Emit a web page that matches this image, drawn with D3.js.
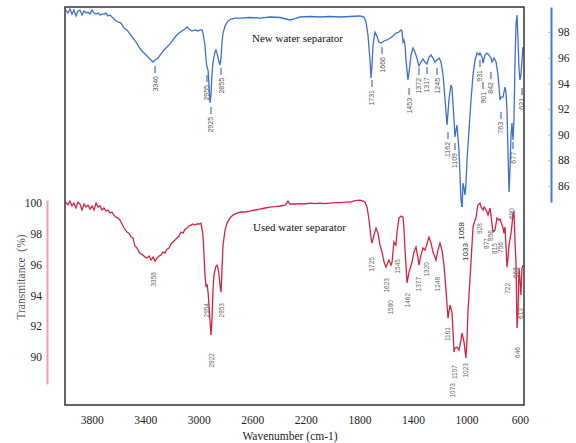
<!DOCTYPE html>
<html>
<head>
<meta charset="utf-8">
<script src="https://cdn.jsdelivr.net/npm/d3@7"></script>
<style>
  body { margin: 0; background: #fff; }
  svg { display: block; }
</style>
</head>
<body>
<svg id="chart" width="576" height="443"></svg>
<script>
// spectra: wavenumber (cm-1) and transmittance (%)
const newWave = [3993,3978,3963,3948,3933,3918,3903,3888,3873,3858,3843,3828,3813,3798,3783,3768,3753,3738,3724,3709,3694,3679,3664,3649,3626,3604,3582,3559,3537,3514,3492,3469,3447,3425,3402,3380,3357,3342,3327,3305,3283,3260,3238,3215,3193,3171,3148,3126,3103,3088,3073,3051,3029,3006,2991,2976,2969,2954,2946,2939,2931,2924,2916,2909,2902,2894,2879,2872,2864,2849,2842,2834,2827,2819,2804,2782,2760,2730,2692,2618,2543,2468,2393,2319,2281,2244,2169,2095,2020,1945,1870,1796,1766,1751,1736,1721,1713,1706,1698,1684,1669,1654,1639,1616,1594,1571,1549,1527,1504,1489,1482,1474,1467,1459,1452,1437,1429,1414,1400,1385,1370,1355,1340,1325,1310,1295,1280,1265,1250,1235,1220,1205,1190,1175,1160,1145,1131,1116,1108,1093,1086,1078,1071,1056,1041,1033,1026,1018,1011,1004,996,981,966,951,936,921,906,899,884,876,862,847,832,817,809,794,779,764,749,742,727,712,705,697,690,682,675,667,660,652,645,637,630,622,615,607,600,593,585,578];
const newT = [99.71,99.48,99.79,99.40,99.71,99.25,99.64,99.71,99.33,99.64,99.48,99.56,99.40,99.71,99.48,99.40,99.48,99.33,99.40,99.40,99.48,99.25,99.33,99.17,98.94,98.78,98.70,98.31,98.16,97.84,97.53,97.22,96.83,96.52,96.29,96.05,95.82,95.66,95.82,95.97,96.29,96.60,96.83,97.07,97.38,97.69,97.92,98.08,98.23,98.39,98.23,98.08,98.16,98.08,98.16,98.16,97.92,96.99,95.82,95.27,95.04,93.87,92.47,93.09,94.65,95.66,96.44,96.60,96.36,95.66,95.43,95.97,97.22,97.92,98.47,98.86,99.01,99.09,99.09,99.13,99.09,99.17,99.13,98.94,99.05,99.17,99.21,99.17,99.21,99.17,99.21,99.25,99.17,98.78,97.77,95.82,94.42,95.43,96.99,98.00,97.69,97.22,97.14,97.30,97.38,97.53,97.69,97.92,98.00,98.16,98.08,97.22,97.38,96.99,95.82,94.26,94.88,96.21,96.75,96.44,95.97,95.35,95.66,95.90,95.66,95.51,96.05,96.21,95.97,95.66,95.82,95.97,95.66,94.65,92.70,90.75,92.70,93.87,93.64,91.14,89.82,90.36,90.75,88.81,84.91,84.36,86.23,85.84,85.30,86.08,88.03,90.36,92.70,94.65,95.82,96.36,96.21,96.36,96.05,95.58,96.21,96.36,96.21,95.97,95.66,95.97,95.66,94.65,92.70,92.93,92.93,93.71,93.33,91.92,88.81,85.54,87.25,89.97,90.91,89.58,91.14,95.82,98.55,99.33,97.38,95.04,94.26,94.65,95.82,96.83];

const usedWave = [3993,3978,3963,3948,3933,3918,3903,3888,3873,3858,3843,3828,3813,3798,3783,3768,3753,3738,3724,3709,3694,3679,3664,3649,3634,3619,3604,3589,3574,3559,3537,3522,3507,3492,3477,3462,3447,3432,3417,3402,3387,3372,3357,3342,3327,3313,3298,3283,3268,3253,3238,3223,3208,3193,3178,3163,3148,3133,3118,3103,3088,3073,3058,3044,3029,3014,2999,2984,2969,2961,2954,2946,2939,2931,2924,2916,2909,2902,2894,2887,2872,2864,2857,2849,2842,2834,2827,2819,2804,2789,2767,2745,2715,2685,2655,2618,2580,2543,2505,2468,2431,2393,2356,2334,2319,2281,2244,2207,2169,2132,2095,2057,2020,1982,1945,1908,1870,1833,1796,1773,1758,1743,1728,1713,1706,1691,1676,1661,1646,1631,1616,1601,1586,1579,1564,1556,1549,1542,1534,1527,1519,1504,1489,1474,1467,1459,1444,1429,1407,1392,1377,1362,1355,1340,1325,1310,1302,1287,1280,1265,1250,1235,1228,1213,1198,1183,1168,1153,1145,1138,1123,1108,1101,1093,1086,1071,1056,1041,1033,1018,1004,996,989,974,966,951,936,929,921,914,899,891,876,869,862,847,839,824,817,802,787,772,757,749,734,727,720,712,705,697,690,682,667,660,652,645,637,630,622,615,607,600,593,585,578];
const usedT = [100.06,99.87,100.13,99.81,100.00,99.68,100.06,99.94,99.55,99.94,99.74,99.87,99.61,99.81,99.55,100.00,99.74,99.81,99.55,99.68,99.48,99.55,99.35,99.42,99.22,99.09,99.03,98.90,98.64,98.38,98.12,98.05,97.79,97.73,97.21,97.08,96.82,96.69,96.62,96.49,96.43,96.56,96.30,96.49,96.23,96.43,96.56,96.62,96.82,96.75,97.01,97.08,97.34,97.47,97.60,97.73,97.86,98.12,98.05,98.31,98.38,98.51,98.57,98.64,98.57,98.64,98.64,98.70,97.92,96.62,95.33,94.54,94.74,94.22,93.38,92.27,91.43,92.40,94.35,95.33,95.91,95.97,95.78,95.33,94.67,94.22,95.65,97.27,98.25,98.70,99.03,99.22,99.35,99.42,99.42,99.48,99.55,99.61,99.68,99.74,99.77,99.81,99.87,100.13,99.94,99.94,99.97,99.94,100.00,99.97,100.00,99.97,100.00,100.03,100.03,100.06,100.06,100.16,100.19,100.13,100.06,99.74,98.90,97.73,97.40,97.92,98.38,98.05,97.27,96.82,96.17,95.84,96.17,96.30,95.97,96.17,96.82,97.47,97.34,97.27,98.12,99.03,99.16,99.09,98.38,96.95,94.81,95.52,96.17,96.82,97.14,96.43,95.97,96.62,97.08,96.95,97.14,97.60,97.79,97.40,96.82,96.49,96.30,96.95,97.40,96.95,95.97,94.35,93.38,92.53,93.38,92.92,91.75,90.33,90.58,90.65,90.45,91.10,91.56,90.97,89.94,91.10,92.92,95.00,96.17,98.44,98.90,99.03,99.55,99.87,100.00,99.74,99.55,99.74,99.68,99.42,99.22,99.68,99.22,98.12,98.25,99.03,98.90,98.96,98.57,98.38,98.05,98.44,97.27,95.84,96.43,97.27,98.05,98.57,99.35,99.42,97.47,96.17,91.88,92.92,95.78,95.00,94.03,95.78,95.97];

// peak labels: text, wavenumber where placed, transmittance at the top of the text
const newPeakText = ["3346","2955","2925","2855","1731","1666","1453","1372","1317","1245","1162","1109","931","901","842","763","677","621"];
const newPeakWave = [3327,2939,2909,2834,1706,1631,1429,1355,1295,1220,1138,1086,899,876,817,742,652,585];
const newPeakTop  = [94.57,93.87,91.38,94.42,93.48,96.05,92.86,94.42,94.49,94.42,89.43,88.57,95.04,93.33,94.10,90.99,88.65,92.86];

const usedPeakText = ["3358","2954","2922","2853","1725","1623","1580","1545","1462","1377","1320","1248","1161","1107","1073","1023","928","877","856","815","756","722","690","668","646","613"];
const usedPeakWave = [3335,2939,2902,2827,1706,1594,1564,1512,1437,1362,1295,1220,1145,1086,1108,1004,899,847,824,794,742,690,660,637,615,593];
const usedPeakTop  = [95.52,93.51,90.26,93.51,96.49,95.13,93.70,96.36,94.16,95.20,96.17,95.20,91.95,89.48,88.31,89.61,98.70,97.73,98.25,97.40,97.47,94.81,99.67,95.84,90.65,93.18];

// the two bigger dark labels in the lower panel (top of text in used-axis units)
const bigText = ["1058","1033"];
const bigWave = [1036,1008];
const bigTop  = [98.77,97.40];

const xTicks = [3800,3400,3000,2600,2200,1800,1400,1000,600];
const newTicks = [86,88,90,92,94,96,98];
const usedTicks = [90,92,94,96,98,100];

const blue = "#3d6fd0";
const red = "#d3243f";
const serif = "'Liberation Serif','Times New Roman',serif";
const sans = "'Liberation Sans',Arial,sans-serif";

const svg = d3.select("#chart");

const x = d3.scaleLinear().domain([4000, 570]).range([65, 524]);
const yNew = d3.scaleLinear().domain([84.75, 99.95]).range([202, 7]);
const yUsed = d3.scaleLinear().domain([88.25, 100.2]).range([384, 200]);

svg.append("defs").append("clipPath").attr("id", "plot")
  .append("rect").attr("x", 65).attr("y", 7).attr("width", 459).attr("height", 398);

const lineNew = d3.line().x((d, i) => x(newWave[i])).y(d => yNew(d));
const lineUsed = d3.line().x((d, i) => x(usedWave[i])).y(d => yUsed(d));

const g = svg.append("g").attr("clip-path", "url(#plot)");
g.append("path").datum(newT).attr("d", lineNew)
  .attr("fill", "none").attr("stroke", blue).attr("stroke-width", 1.3);
g.append("path").datum(usedT).attr("d", lineUsed)
  .attr("fill", "none").attr("stroke", red).attr("stroke-width", 1.3);

// peak labels
function peakLabels(texts, waves, tops, yScale, size, color, dashColor, dashGap) {
  texts.forEach((t, i) => {
    const px = x(waves[i]);
    const py = yScale(tops[i]);
    if (dashColor) {
      svg.append("line")
        .attr("x1", px).attr("x2", px)
        .attr("y1", py - dashGap - 7).attr("y2", py - dashGap)
        .attr("stroke", dashColor).attr("stroke-width", 1.2);
    }
    svg.append("text")
      .attr("transform", `translate(${px},${py}) rotate(-90)`)
      .attr("text-anchor", "end")
      .attr("dominant-baseline", "central")
      .style("font-family", sans)
      .style("font-size", size + "px")
      .style("fill", color)
      .text(t);
  });
}
peakLabels(newPeakText, newPeakWave, newPeakTop, yNew, 7, "#555", blue, 3);
peakLabels(usedPeakText, usedPeakWave, usedPeakTop, yUsed, 6.5, "#666", null, 0);
peakLabels(bigText.slice(0, 1), bigWave.slice(0, 1), bigTop.slice(0, 1), yUsed, 8, "#333", blue, 15);
peakLabels(bigText.slice(1), bigWave.slice(1), bigTop.slice(1), yUsed, 8, "#333", null, 0);

// frame
svg.append("rect")
  .attr("x", 65).attr("y", 7).attr("width", 459).attr("height", 398)
  .attr("fill", "none").attr("stroke", "#333").attr("stroke-width", 1.5);

// x axis
const xAxis = svg.append("g").attr("transform", "translate(0,405)")
  .call(d3.axisBottom(x).tickValues(xTicks).tickFormat(d3.format("d")).tickSize(0).tickPadding(11));
xAxis.select(".domain").remove();
xAxis.selectAll("text").style("font-family", serif).style("font-size", "11.5px").style("fill", "#222");

svg.append("text")
  .attr("x", 290).attr("y", 440)
  .attr("text-anchor", "middle")
  .style("font-family", serif).style("font-size", "11.5px").style("fill", "#222")
  .text("Wavenumber (cm-1)");

// left axis (used)
const yl = svg.append("g").attr("transform", "translate(47,0)")
  .call(d3.axisLeft(yUsed).tickValues(usedTicks).tickSize(0).tickPadding(5));
yl.select(".domain").attr("stroke", "#eea0aa").attr("stroke-width", 2);
yl.selectAll("text").style("font-family", serif).style("font-size", "11.5px").style("fill", "#222");

svg.append("text")
  .attr("transform", "translate(21,277) rotate(-90)")
  .attr("text-anchor", "middle")
  .attr("dominant-baseline", "central")
  .style("font-family", serif).style("font-size", "11.5px").style("fill", "#555")
  .style("white-space", "pre")
  .text("Transmitance  (%)");

// right axis (new)
const yr = svg.append("g").attr("transform", "translate(551,0)")
  .call(d3.axisRight(yNew).tickValues(newTicks).tickSizeInner(-3).tickSizeOuter(0).tickPadding(7));
yr.select(".domain").attr("stroke", "#4a78c8").attr("stroke-width", 2);
yr.selectAll(".tick line").attr("stroke", "#bbb");
yr.selectAll("text").style("font-family", serif).style("font-size", "11.5px").style("fill", "#222");

// panel names
svg.append("text").attr("x", 252).attr("y", 42)
  .style("font-family", serif).style("font-size", "11px").style("fill", "#111")
  .text("New water separator");
svg.append("text").attr("x", 253).attr("y", 231)
  .style("font-family", serif).style("font-size", "11px").style("fill", "#111")
  .text("Used water separator");
</script>
</body>
</html>
